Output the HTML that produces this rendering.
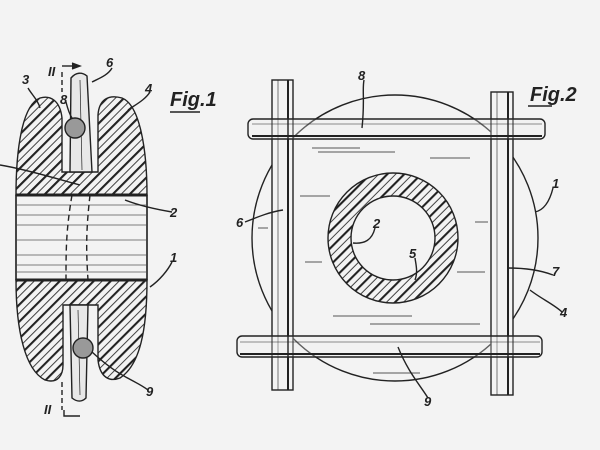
<!DOCTYPE html>
<html><head><style>
html,body{margin:0;padding:0;background:#f3f3f3;}
svg{display:block}
text{font-family:"Liberation Sans",sans-serif;font-style:italic;font-weight:bold;fill:#222}
</style></head><body>
<svg width="600" height="450" viewBox="0 0 600 450" xmlns="http://www.w3.org/2000/svg">
<defs>
<pattern id="h" patternUnits="userSpaceOnUse" width="12" height="12" patternTransform="rotate(45)">
<rect width="12" height="12" fill="#f3f3f3"/>
<line x1="1" y1="0" x2="1" y2="12" stroke="#222" stroke-width="2.2"/>
<line x1="7" y1="0" x2="7" y2="12" stroke="#444" stroke-width="1"/>
</pattern>
</defs>
<rect width="600" height="450" fill="#f3f3f3"/>
<g stroke="#222" stroke-width="1.4" fill="none">
<!-- Fig 1 body -->
<path d="M62,172 L62,118 C60,100 50,95 40,98 C22,105 16,150 16,195 L147,195 C147,150 140,105 122,98 C108,94 99,100 98,115 L98,172 Z" fill="url(#h)"/>
<path d="M16,280 C16,330 25,370 45,380 C58,384 63,375 63,365 L63,305 L98,305 L98,360 C100,378 110,382 120,378 C140,365 147,330 147,280 Z" fill="url(#h)"/>
<rect x="16" y="195" width="131" height="85" fill="#f3f3f3"/>
<line x1="16" y1="195" x2="147" y2="195" stroke-width="3"/>
<line x1="16" y1="280" x2="147" y2="280" stroke-width="3"/>
<g stroke-width="0.8" stroke="#555">
<line x1="17" y1="205" x2="146" y2="205"/><line x1="17" y1="215" x2="146" y2="215"/>
<line x1="17" y1="225" x2="146" y2="225"/><line x1="17" y1="240" x2="146" y2="240"/>
<line x1="17" y1="255" x2="146" y2="255"/><line x1="17" y1="265" x2="146" y2="265"/>
<line x1="17" y1="272" x2="146" y2="272"/>
</g>
<line x1="16" y1="195" x2="16" y2="280"/><line x1="147" y1="195" x2="147" y2="280"/>
<path d="M72,195 C66,230 66,250 66,280" stroke-dasharray="6,4"/>
<path d="M90,195 C86,230 86,250 88,280" stroke-dasharray="6,4"/>
<!-- wires -->
<path d="M70,172 L71,78 C76,72 82,72 87,76 L92,172 Z" fill="#e8e8e8"/>
<line x1="80" y1="80" x2="82" y2="170" stroke-width="0.7"/>
<path d="M70,305 L72,398 C77,402 82,402 86,398 L88,305 Z" fill="#e8e8e8"/>
<line x1="78" y1="310" x2="80" y2="395" stroke-width="0.7"/>
<circle cx="75" cy="128" r="10" fill="#999"/>
<circle cx="83" cy="348" r="10" fill="#999"/>
<!-- section marks -->
<path d="M62,72 L62,92" stroke-dasharray="5,3"/><path d="M62,66 L78,66"/><path d="M72,63 L80,66 L72,69" fill="#222"/>
<path d="M62,382 L62,410" stroke-dasharray="5,3"/><path d="M64,410 L64,416 L80,416"/>
<!-- leaders fig1 -->
<path d="M28,88 C32,95 38,100 40,108"/><path d="M112,68 C108,75 100,78 92,82"/><path d="M150,92 C145,100 135,105 128,110"/>
<path d="M66,102 C68,110 70,115 72,118"/><path d="M0,165 C30,170 60,180 80,185"/>
<path d="M172,212 C160,210 140,206 125,200"/><path d="M172,262 C168,270 160,280 150,287"/>
<path d="M148,390 C135,380 120,378 92,352"/>
<!-- Fig 2 -->
<circle cx="395" cy="238" r="143"/>
<circle cx="393" cy="238" r="65" fill="url(#h)"/>
<circle cx="393" cy="238" r="42" fill="#f3f3f3"/>
<rect x="272" y="80" width="21" height="310" fill="#f3f3f3"/>
<line x1="278" y1="80" x2="278" y2="390" stroke-width="0.6"/><line x1="288" y1="80" x2="288" y2="390" stroke-width="2"/>
<rect x="491" y="92" width="22" height="303" fill="#f3f3f3"/>
<line x1="497" y1="92" x2="497" y2="395" stroke-width="0.6"/><line x1="508" y1="92" x2="508" y2="395" stroke-width="2"/>
<rect x="248" y="119" width="297" height="20" rx="5" fill="#f3f3f3" fill-opacity="0.3"/>
<line x1="252" y1="124" x2="542" y2="124" stroke-width="0.6"/><line x1="252" y1="136" x2="542" y2="136" stroke-width="2"/>
<rect x="237" y="336" width="305" height="21" rx="5" fill="#f3f3f3" fill-opacity="0.3"/>
<line x1="240" y1="342" x2="540" y2="342" stroke-width="0.6"/><line x1="240" y1="354" x2="540" y2="354" stroke-width="2"/>
<g stroke-width="1" stroke="#555">
<line x1="312" y1="148" x2="360" y2="148"/><line x1="318" y1="152" x2="395" y2="152"/>
<line x1="430" y1="158" x2="470" y2="158"/><line x1="300" y1="196" x2="330" y2="196"/>
<line x1="475" y1="222" x2="488" y2="222"/><line x1="305" y1="262" x2="322" y2="262"/>
<line x1="457" y1="272" x2="485" y2="272"/><line x1="333" y1="316" x2="412" y2="316"/>
<line x1="370" y1="324" x2="480" y2="324"/><line x1="373" y1="373" x2="420" y2="373"/>
<line x1="258" y1="228" x2="268" y2="228"/>
</g>
<!-- leaders fig2 -->
<path d="M364,80 C362,90 365,100 362,128"/><path d="M553,188 C550,200 545,210 535,212"/>
<path d="M553,275 C540,270 525,268 508,268"/><path d="M562,312 C555,305 540,298 530,290"/>
<path d="M245,222 C260,216 270,212 283,210"/><path d="M375,228 C372,240 365,244 353,243"/>
<path d="M415,258 C416,265 418,272 415,280"/><path d="M428,398 C420,385 408,372 398,347"/>
<line x1="170" y1="112" x2="200" y2="112"/><line x1="528" y1="106" x2="552" y2="106"/>
</g>
<g font-size="13">
<text x="106" y="67">6</text><text x="145" y="93">4</text><text x="22" y="84">3</text>
<text x="60" y="104">8</text><text x="48" y="76">II</text><text x="44" y="414">II</text>
<text x="170" y="217">2</text><text x="170" y="262">1</text><text x="146" y="396">9</text>
<text x="358" y="80">8</text><text x="552" y="188">1</text><text x="552" y="276">7</text>
<text x="560" y="317">4</text><text x="236" y="227">6</text><text x="373" y="228">2</text>
<text x="409" y="258">5</text><text x="424" y="406">9</text>
</g>
<text x="170" y="106" font-size="20">Fig.1</text>
<text x="530" y="101" font-size="20">Fig.2</text>
</svg>
</body></html>
